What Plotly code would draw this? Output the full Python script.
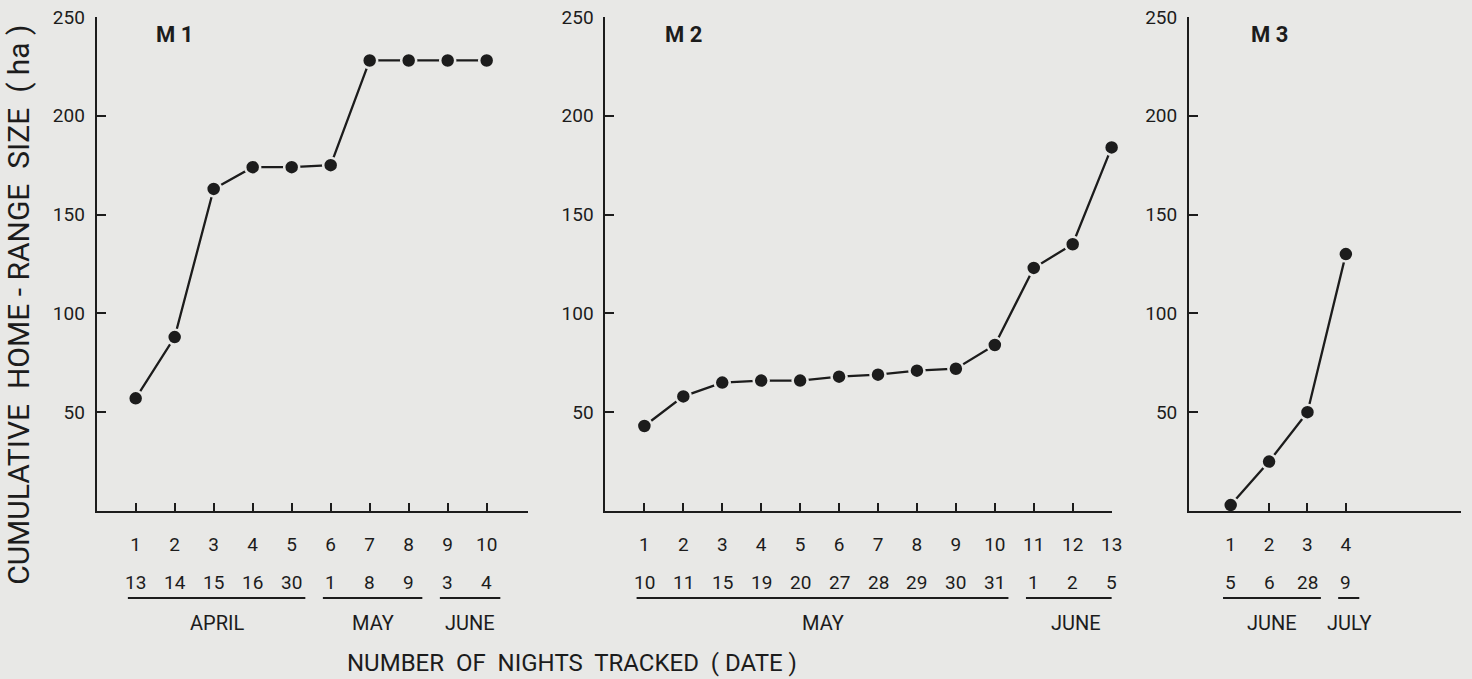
import plotly.graph_objects as go

# ---------------- data ----------------
m1_nights = [1, 2, 3, 4, 5, 6, 7, 8, 9, 10]
m1_dates = ["13", "14", "15", "16", "30", "1", "8", "9", "3", "4"]
m1_area = [57, 88, 163, 174, 174, 175, 228, 228, 228, 228]
m1_months = ["APRIL", "MAY", "JUNE"]
m1_month_first = [1, 6, 9]
m1_month_last = [5, 8, 10]

m2_nights = [1, 2, 3, 4, 5, 6, 7, 8, 9, 10, 11, 12, 13]
m2_dates = ["10", "11", "15", "19", "20", "27", "28", "29", "30", "31", "1", "2", "5"]
m2_area = [43, 58, 65, 66, 66, 68, 69, 71, 72, 84, 123, 135, 184]
m2_months = ["MAY", "JUNE"]
m2_month_first = [1, 11]
m2_month_last = [10, 13]

m3_nights = [1, 2, 3, 4]
m3_dates = ["5", "6", "28", "9"]
m3_area = [3, 25, 50, 130]
m3_months = ["JUNE", "JULY"]
m3_month_first = [1, 4]
m3_month_last = [3, 4]

panel_names = ["M 1", "M 2", "M 3"]
y_ticks = [50, 100, 150, 200, 250]

# ---------------- style ----------------
W, H = 1472, 679
BG = "#e8e8e6"
INK = "#1c1c1c"
FONT = "Roboto, DejaVu Sans, sans-serif"

panels = [
    dict(n=m1_nights, d=m1_dates, a=m1_area, mo=m1_months, f=m1_month_first, l=m1_month_last,
         dom=[97.4 / W, 532 / W], rng=[0, 11.06]),
    dict(n=m2_nights, d=m2_dates, a=m2_area, mo=m2_months, f=m2_month_first, l=m2_month_last,
         dom=[610 / W, 1120 / W], rng=[0, 13]),
    dict(n=m3_nights, d=m3_dates, a=m3_area, mo=m3_months, f=m3_month_first, l=m3_month_last,
         dom=[1198 / W, 1.0], rng=[-0.085, 7.0]),
]

fig = go.Figure()
annotations = []
shapes = []

for i, p in enumerate(panels):
    sfx = "" if i == 0 else str(i + 1)
    xa, ya = "x" + sfx, "y" + sfx
    fig.add_trace(go.Scatter(
        x=p["n"], y=p["a"], mode="lines+markers",
        xaxis=xa, yaxis=ya, cliponaxis=False, showlegend=False,
        line=dict(color=INK, width=2.3),
        marker=dict(size=15, color=INK, line=dict(color=BG, width=2.5)),
    ))
    fig.layout["xaxis" + sfx] = dict(
        domain=p["dom"], range=p["rng"], anchor=ya,
        tickmode="array", tickvals=p["n"], ticktext=[str(v) for v in p["n"]],
        ticks="inside", ticklen=8, tickwidth=1.5, tickcolor=INK,
        showline=True, linecolor=INK, linewidth=2,
        showgrid=False, zeroline=False, ticklabelstandoff=15,
        tickfont=dict(size=19, color=INK, family=FONT),
    )
    fig.layout["yaxis" + sfx] = dict(
        domain=[0, 1], range=[0, 250], anchor=xa,
        tickmode="array", tickvals=y_ticks,
        ticks="inside", ticklen=9, tickwidth=1.5, tickcolor=INK,
        showline=True, linecolor=INK, linewidth=2,
        showgrid=False, zeroline=False, ticklabelstandoff=6,
        tickfont=dict(size=19, color=INK, family=FONT),
    )
    # panel label
    annotations.append(dict(x=2, y=241, xref=xa, yref=ya, text="<b>" + panel_names[i] + "</b>",
                            showarrow=False, font=dict(size=22, color=INK, family=FONT)))
    # date row
    for n, d in zip(p["n"], p["d"]):
        annotations.append(dict(x=n, y=0, xref=xa, yref=ya, text=d, showarrow=False,
                                yshift=-71, yanchor="middle",
                                font=dict(size=19, color=INK, family=FONT)))
    # month underlines and names
    for mo, f, l in zip(p["mo"], p["f"], p["l"]):
        x0, x1 = f - 0.2, l + 0.35
        shapes.append(dict(type="line", xref=xa, yref="paper",
                           x0=x0, x1=x1, y0=-87 / 494, y1=-87 / 494,
                           line=dict(color=INK, width=2)))
        annotations.append(dict(x=(x0 + x1) / 2, y=0, xref=xa, yref=ya, text=mo,
                                showarrow=False, yshift=-112, yanchor="middle",
                                font=dict(size=20, color=INK, family=FONT)))

# axis titles
annotations.append(dict(x=18 / W, y=(511 - 305) / 494, xref="paper", yref="paper",
                        text="CUMULATIVE  HOME - RANGE  SIZE  ( ha )", textangle=-90,
                        showarrow=False, xanchor="center", yanchor="middle",
                        font=dict(size=30, color=INK, family=FONT)))
annotations.append(dict(x=576 / W, y=(511 - 663) / 494, xref="paper", yref="paper",
                        text="NUMBER  OF  NIGHTS  TRACKED  ( DATE )",
                        showarrow=False, xanchor="center", yanchor="middle",
                        font=dict(size=24, color=INK, family=FONT)))

fig.update_layout(
    width=W, height=H,
    margin=dict(l=0, r=0, t=17, b=168),
    paper_bgcolor=BG, plot_bgcolor=BG,
    annotations=annotations, shapes=shapes,
    showlegend=False,
)

fig.write_html("out.html", config={"displayModeBar": False},
               post_script="document.body.style.margin='0';")
